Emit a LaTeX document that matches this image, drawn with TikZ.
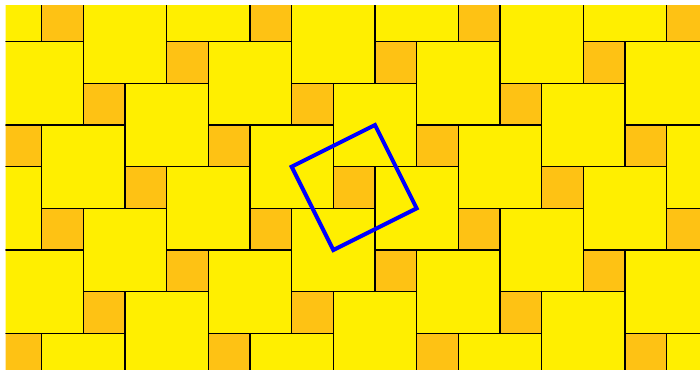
\documentclass[tikz,border=0pt]{standalone}
\usepackage{tikz}
\definecolor{bigyellow}{RGB}{255,239,0}
\definecolor{smallorange}{RGB}{254,194,20}

\begin{document}
\begin{tikzpicture}[
		bigsq/.style={fill=bigyellow,draw=black,line width=0.8pt},
		smallsq/.style={fill=smallorange,draw=black,line width=0.8pt},
		cell/.style={draw=blue,line width=2.7pt}]
	\useasboundingbox (0,0) rectangle (16.8,-8.856);
	\begin{scope}
		\clip (0.136,-0.136) rectangle (16.8,-8.856);
		\foreach \i in {-5,...,9}
		\foreach \j in {-4,...,8}
		{
			\pgfmathsetmacro\px{2*\i+\j}
			\pgfmathsetmacro\py{-\i+2*\j+1}
			\draw[bigsq] (\px,-\py) rectangle ++(2,-2);
			\draw[smallsq] ({\px+2},{-\py-1}) rectangle ++(1,-1);
		}
	\end{scope}
	\draw[cell] (7,-4) -- (9,-3) -- (10,-5) -- (8,-6) -- cycle;
\end{tikzpicture}
\end{document}
